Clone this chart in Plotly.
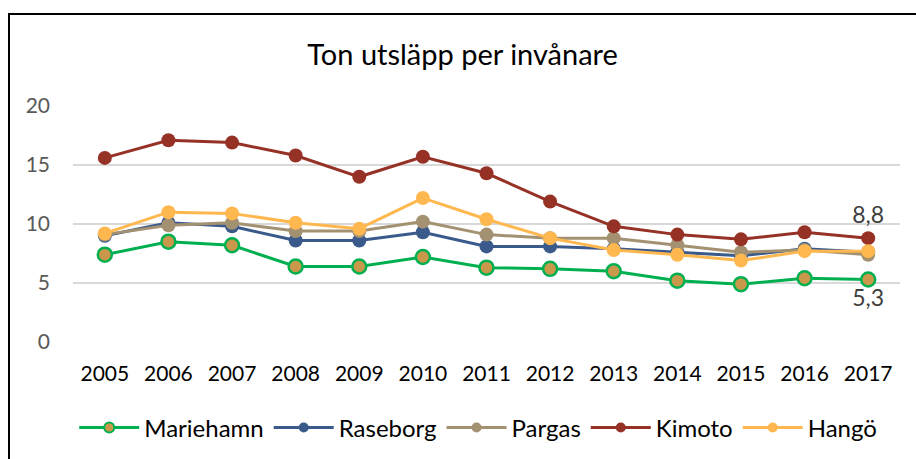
import plotly.graph_objects as go

years = ["2005", "2006", "2007", "2008", "2009", "2010", "2011", "2012", "2013", "2014", "2015", "2016", "2017"]
mariehamn = [7.4, 8.5, 8.2, 6.4, 6.4, 7.2, 6.3, 6.2, 6.0, 5.2, 4.9, 5.4, 5.3]
raseborg = [9.0, 10.1, 9.8, 8.6, 8.6, 9.3, 8.1, 8.1, 7.9, 7.6, 7.3, 7.9, 7.6]
pargas = [9.1, 9.9, 10.1, 9.4, 9.4, 10.2, 9.1, 8.8, 8.8, 8.2, 7.6, 7.8, 7.4]
kimoto = [15.6, 17.1, 16.9, 15.8, 14.0, 15.7, 14.3, 11.9, 9.8, 9.1, 8.7, 9.3, 8.8]
hango = [9.2, 11.0, 10.9, 10.1, 9.6, 12.2, 10.4, 8.8, 7.8, 7.4, 6.9, 7.7, 7.7]
y_ticks = [0, 5, 10, 15, 20]

FONT = "Lato, Carlito, Calibri, sans-serif"

def label_last(vals):
    return [""] * (len(vals) - 1) + [f"{vals[-1]:.1f}".replace(".", ",")]

series = [
    ("Mariehamn", mariehamn, "#00B050", "#C9984A", "bottom center", True),
    ("Raseborg", raseborg, "#3A5A8C", "#3A5A8C", None, False),
    ("Pargas", pargas, "#A39171", "#A39171", None, False),
    ("Kimoto", kimoto, "#963126", "#963126", "top center", True),
    ("Hangö", hango, "#FFB84F", "#FFB84F", None, False),
]

fig = go.Figure()
for name, vals, lc, mc, tpos, lab in series:
    kw = {}
    if lab:
        kw = dict(text=label_last(vals), textposition=tpos,
                  textfont=dict(family=FONT, size=23, color="#404040"))
    mw = 2.5 if name == "Mariehamn" else 0
    fig.add_trace(go.Scatter(
        x=years, y=vals, name=name, showlegend=False, legendgroup=name,
        mode="lines+markers+text" if lab else "lines+markers",
        line=dict(color=lc, width=3),
        marker=dict(size=14, color=mc, line=dict(color=lc, width=mw)),
        cliponaxis=False,
        **kw,
    ))
    # legend entry with smaller marker
    fig.add_trace(go.Scatter(
        x=[None], y=[None], name=name, legendgroup=name, mode="lines+markers",
        line=dict(color=lc, width=3),
        marker=dict(size=10, color=mc, line=dict(color=lc, width=2 if mw else 0)),
    ))

fig.update_layout(
    width=916, height=459,
    margin=dict(l=73, r=16, t=106, b=117, autoexpand=False),
    paper_bgcolor="white", plot_bgcolor="white",
    font=dict(family=FONT, size=20, color="#000000"),
    title=dict(text="Ton utsläpp per invånare", x=0.505, xanchor="center",
               y=1 - 55 / 459, yanchor="middle",
               font=dict(family=FONT, size=29, color="#000000")),
    xaxis=dict(type="category", range=[-0.5, 12.5], showgrid=False, showline=False,
               ticks="", tickfont=dict(size=21, color="#000000"), ticklabelstandoff=17),
    yaxis=dict(range=[0, 20], tickvals=y_ticks, showgrid=True, gridcolor="#D9D9D9",
               gridwidth=1.5, zeroline=False, showline=False, ticks="",
               tickfont=dict(size=21, color="#595959"), ticklabelstandoff=22),
    legend=dict(orientation="h", x=0.49, xanchor="center", y=-0.364, yanchor="middle",
                font=dict(size=24, color="#000000"), itemwidth=60,
                bgcolor="rgba(0,0,0,0)", traceorder="normal"),
    showlegend=True,
)

fig.add_shape(type="rect", xref="paper", yref="paper",
              x0=(9 - 73) / 827, x1=1.2, y0=-0.8, y1=1 + (106 - 14) / 236,
              line=dict(color="black", width=2), layer="below")

fig.write_html("out.html", config={"displayModeBar": False},
               post_script="document.body.style.margin='0';document.body.style.overflow='hidden';")
